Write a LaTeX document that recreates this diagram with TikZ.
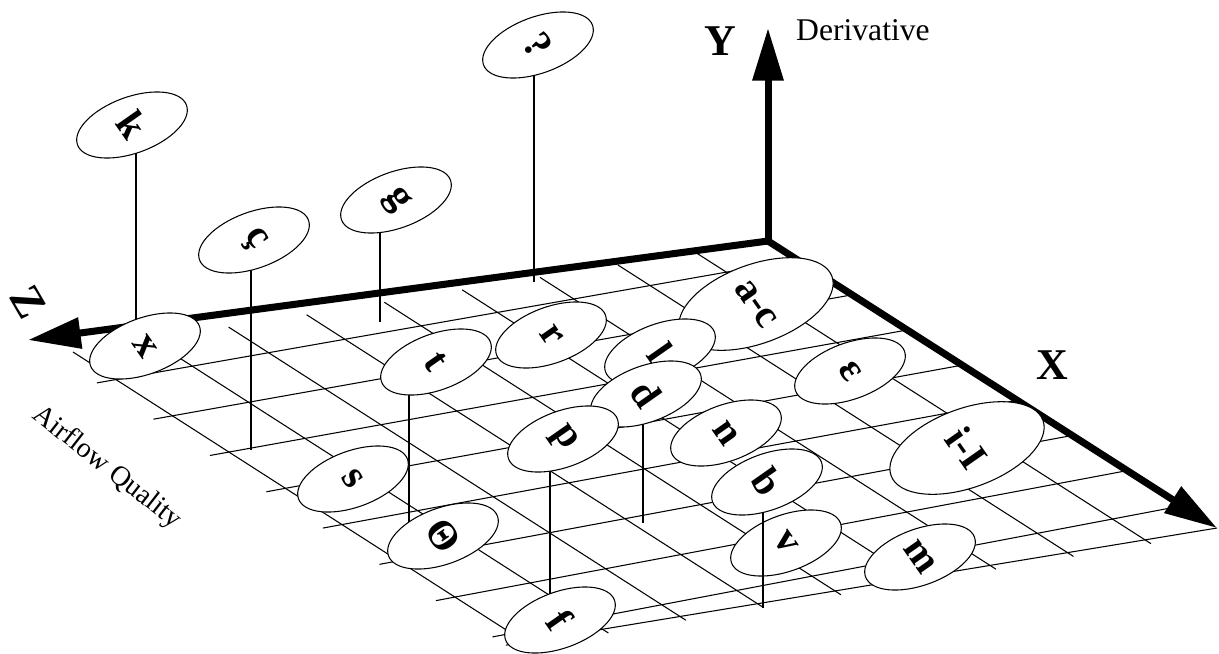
\documentclass[tikz,border=0pt]{standalone}
\usepackage{fontspec}
\setmainfont{Liberation Serif}
\usetikzlibrary{shapes.geometric,arrows.meta,calc}

\newcommand{\tilt}[1]{\rotatebox{-75}{#1}}

\begin{document}
\begin{tikzpicture}[x=0.02cm, y=-0.02cm,
  gridline/.style={line width=0.6pt},
  axis/.style={line width=4pt, line cap=rect, -{Triangle[length=30pt,width=17pt]}},
  stem/.style={line width=1.2pt},
  blob/.style={draw, line width=0.6pt, fill=white, ellipse, rotate=20, inner sep=0pt,
    minimum width=66pt, minimum height=32pt, font=\bfseries\fontsize{23}{23}\selectfont},
  bigblob/.style={blob, minimum width=92pt, minimum height=45pt},
  axlabel/.style={font=\bfseries\fontsize{25}{25}\selectfont}]
  \useasboundingbox (0,0) rectangle (1219,653);

  \coordinate (o) at (768,241);
  \coordinate (xtip) at (1217,528);
  \coordinate (ytip) at (768,28);
  \coordinate (ztip) at (28,340);
  \coordinate (gl) at (73,352);
  \coordinate (gf) at (525,642);

  % floor grid
  \foreach \u in {0.104,0.216,0.328,0.44,0.552,0.664,0.776,0.888,1} {
    \draw[gridline, shorten >=-4pt] ($(o)!\u!(gl)$) -- ($(xtip)!\u!(gf)$);
  }
  \foreach \vl/\vr in {0.095/0.065, 0.22/0.1875, 0.345/0.31, 0.47/0.4325, 0.595/0.555,
                       0.72/0.6775, 0.845/0.8, 0.97/0.9225, 1/1} {
    \draw[gridline, shorten <=-11pt] ($(gl)!\vl!(gf)$) -- ($(o)!\vr!(xtip)$);
  }

  % axes
  \draw[axis] (o) -- (ytip);
  \draw[axis] (o) -- (xtip);
  \draw[axis] (o) -- (ztip);
  \node[axlabel] (ylab) at (720,41) {Y};
  \node[axlabel] (xlab) at (1052,365) {X};
  \node[axlabel, rotate=-60] (zlab) at (28,302) {Z};
  \node[font=\fontsize{18}{18}\selectfont, anchor=west] (deriv) at (790,30) {Derivative};
  \node[font=\fontsize{16}{16}\selectfont, rotate=-38] (airq) at (107,468) {Airflow Quality};

  \coordinate (kpos) at (132,125);   \coordinate (kfl) at (136,322);
  \coordinate (ccpos) at (254,240);  \coordinate (ccfl) at (251,450);
  \coordinate (gpos) at (396,200);   \coordinate (gfl) at (380,322);
  \coordinate (qpos) at (538,45);    \coordinate (qfl) at (534,282);
  \coordinate (tpos) at (436,362);   \coordinate (tfl) at (409,523);
  \coordinate (dpos) at (646,394);   \coordinate (dfl) at (643,523);
  \coordinate (ppos) at (563,439);   \coordinate (pfl) at (550,598);
  \coordinate (bpos) at (767,482);   \coordinate (bfl) at (763,608);

  \draw[stem] (kfl |- kpos) -- (kfl);
  \node[blob] (k) at (kpos) {\tilt{k}};
  \draw[stem] (ccfl |- ccpos) -- (ccfl);
  \node[blob] (cc) at (ccpos) {\tilt{ç}};
  \draw[stem] (gfl |- gpos) -- (gfl);
  \node[blob] (g) at (gpos) {\tilt{g}};
  \draw[stem] (qfl |- qpos) -- (qfl);
  \node[blob] (q) at (qpos) {\tilt{?}};
  \node[blob] (x) at (145,346) {\tilt{x}};
  \node[bigblob] (ac) at (756,304) {\tilt{a-c}};
  \node[blob] (r) at (551,335) {\tilt{r}};
  \node[blob] (l) at (660,352) {\tilt{l}};
  \draw[stem] (dfl |- dpos) -- (dfl);
  \node[blob] (d) at (dpos) {\tilt{d}};
  \draw[stem] (tfl |- tpos) -- (tfl);
  \node[blob] (t) at (tpos) {\tilt{t}};
  \node[blob] (eps) at (850,371) {\tilt{ε}};
  \node[blob] (n) at (726,433) {\tilt{n}};
  \draw[stem] (pfl |- ppos) -- (pfl);
  \node[blob] (p) at (ppos) {\tilt{p}};
  \node[bigblob] (ii) at (967,448) {\tilt{i-I}};
  \node[blob] (s) at (353,479) {\tilt{s}};
  \node[blob] (v) at (786,543) {\tilt{v}};
  \draw[stem] (bfl |- bpos) -- (bfl);
  \node[blob] (b) at (bpos) {\tilt{b}};
  \node[blob] (th) at (443,536) {\tilt{Θ}};
  \node[blob] (m) at (920,557) {\tilt{m}};
  \node[blob] (f) at (560,620) {\tilt{f}};
\end{tikzpicture}
\end{document}
